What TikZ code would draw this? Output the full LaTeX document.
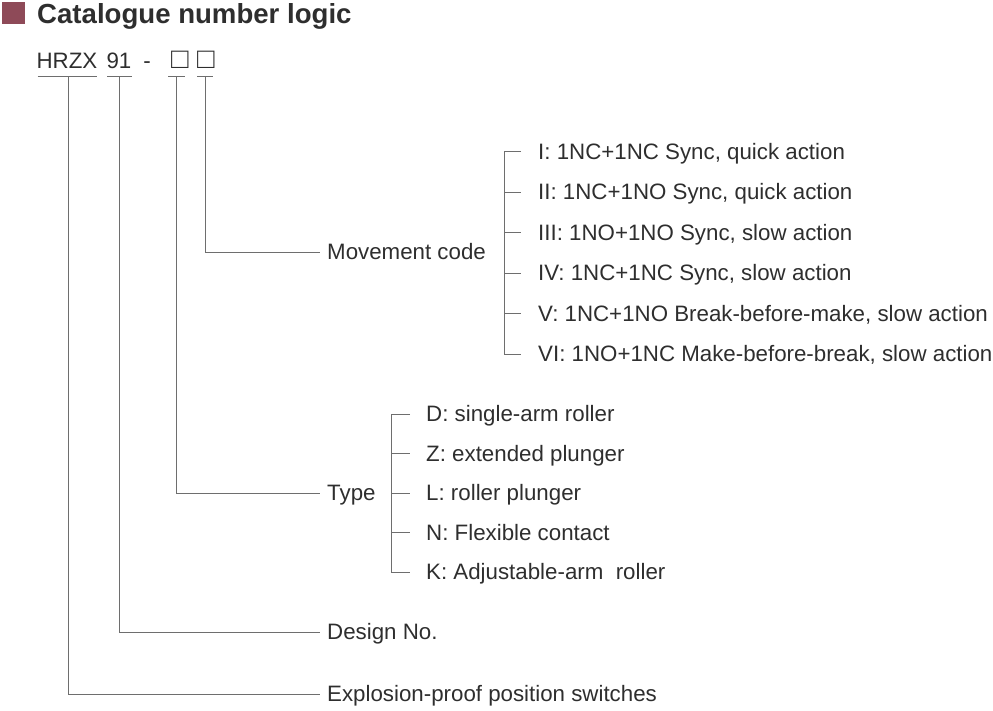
\documentclass[tikz,border=0pt]{standalone}
\usepackage{fontspec}
\setmainfont{Liberation Sans}
\usepackage{xcolor}
\usepackage{tikz}

\definecolor{txtgray}{HTML}{2E2E2E}
\definecolor{wiregray}{HTML}{6E6E6E}
\definecolor{markred}{HTML}{8E4A58}

\tikzset{
  wire/.style={draw=wiregray, line width=0.9pt},
  lbl/.style={anchor=west, inner xsep=7pt, inner ysep=0pt, text height=15.9pt, text depth=0pt,
    text=txtgray, font=\fontsize{22.3}{26}\selectfont},
  mitem/.style={lbl, inner xsep=17pt},
  titem/.style={lbl, inner xsep=16pt},
  code/.style={anchor=base, inner sep=0pt, text=txtgray, font=\fontsize{22.3}{26}\selectfont},
  sqbox/.style={code, font=\fontsize{29}{32}\selectfont}
}

\begin{document}
\begin{tikzpicture}[x=1pt,y=-1pt]
\useasboundingbox (0,0) rectangle (993,710);

% heading
\fill[markred] (2,2) rectangle (25,24);
\node[anchor=base west, inner sep=0pt, text=txtgray, font=\fontsize{27.6}{32}\selectfont\bfseries] (title) at (37,23.5) {Catalogue number logic};

% catalogue number
\node[code] (hrzx) at (67,68) {HRZX};
\node[code] (num) at (119,68) {91};
\node[code] (dash) at (147,68) {-};
\node[sqbox] (box1) at (180,68) {□};
\node[sqbox] (box2) at (206,68) {□};

\draw[wire] (37.5,76) -- (97,76);
\draw[wire] (107,76) -- (132,76);
\draw[wire] (168,76) -- (185,76);
\draw[wire] (197,76) -- (213,76);

\coordinate (u1) at (68,76);
\coordinate (u2) at (119,76);
\coordinate (u3) at (176,76);
\coordinate (u4) at (205,76);

% labels
\node[lbl] (move) at (320,252) {Movement code};
\node[lbl] (type) at (320,493) {Type};
\node[lbl] (design) at (320,632) {Design No.};
\node[lbl] (expl) at (320,694) {Explosion-proof position switches};

\draw[wire] (u4) |- (move.west);
\draw[wire] (u3) |- (type.west);
\draw[wire] (u2) |- (design.west);
\draw[wire] (u1) |- (expl.west);

% movement codes
\node[mitem] (m1) at (521,151.5) {I: 1NC+1NC Sync, quick action};
\node[mitem] (m2) at (521,192) {II: 1NC+1NO Sync, quick action};
\node[mitem] (m3) at (521,232.5) {III: 1NO+1NO Sync, slow action};
\node[mitem] (m4) at (521,273) {IV: 1NC+1NC Sync, slow action};
\node[mitem] (m5) at (521,313.5) {V: 1NC+1NO Break-before-make, slow action};
\node[mitem] (m6) at (521,354) {VI: 1NO+1NC Make-before-break, slow action};

\coordinate (ms) at (504,0);
\draw[wire] (m1.west) -| (m6.west -| ms) -- (m6.west);
\foreach \i in {2,...,5}
  \draw[wire] (m\i.west -| ms) -- (m\i.west);

% types
\node[titem] (t1) at (410,414) {D: single-arm roller};
\node[titem] (t2) at (410,453.5) {Z: extended plunger};
\node[titem] (t3) at (410,493) {L: roller plunger};
\node[titem] (t4) at (410,532.5) {N: Flexible contact};
\node[titem] (t5) at (410,572) {K: Adjustable-arm\ \ roller};

\coordinate (ts) at (391,0);
\draw[wire] (t1.west) -| (t5.west -| ts) -- (t5.west);
\foreach \i in {2,...,4}
  \draw[wire] (t\i.west -| ts) -- (t\i.west);

\end{tikzpicture}
\end{document}
